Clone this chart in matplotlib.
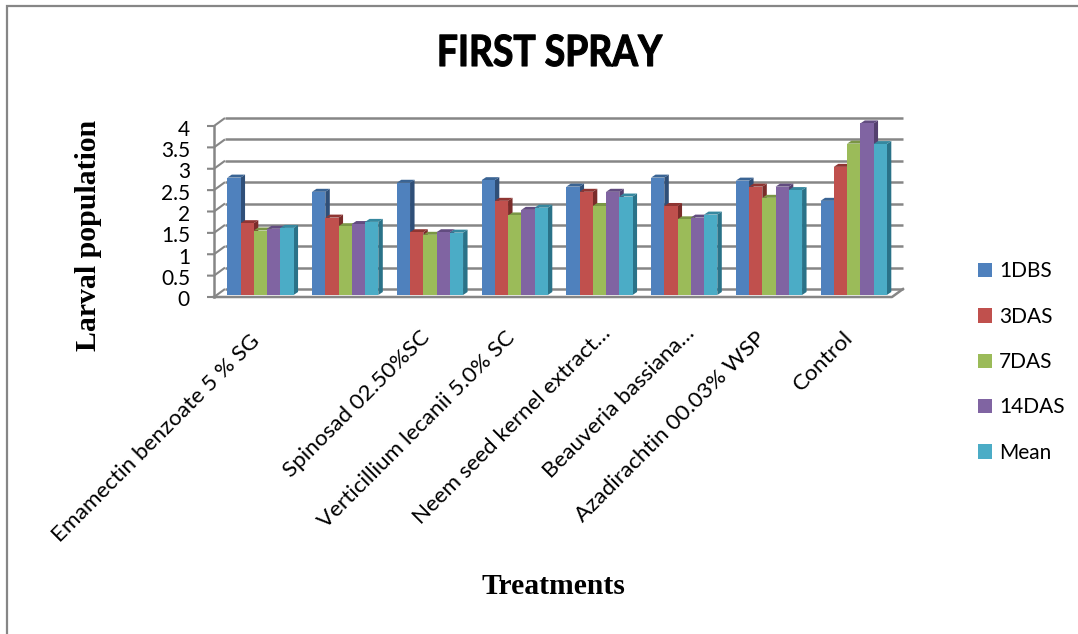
import numpy as np
import matplotlib
matplotlib.use('Agg')
import matplotlib.pyplot as plt
import matplotlib.patheffects as pe
from matplotlib.patches import Polygon
from matplotlib.transforms import Affine2D

# values
categories = ['Emamectin benzoate 5 % SG', '', 'Spinosad 02.50%SC', 'Verticillium lecanii 5.0% SC',
              'Neem seed kernel extract…', 'Beauveria bassiana…', 'Azadirachtin 00.03% WSP', 'Control']
dbs1 = [2.73, 2.40, 2.61, 2.67, 2.52, 2.73, 2.66, 2.19]
das3 = [1.67, 1.80, 1.46, 2.19, 2.40, 2.07, 2.52, 2.98]
das7 = [1.50, 1.60, 1.40, 1.85, 2.07, 1.76, 2.26, 3.52]
das14 = [1.54, 1.65, 1.46, 1.98, 2.40, 1.80, 2.52, 3.99]
mean = [1.56, 1.70, 1.45, 2.03, 2.29, 1.87, 2.44, 3.51]
series_names = ['1DBS', '3DAS', '7DAS', '14DAS', 'Mean']
yticks = [0, 0.5, 1, 1.5, 2, 2.5, 3, 3.5, 4]
ytick_labels = ['0', '0.5', '1', '1.5', '2', '2.5', '3', '3.5', '4']

series = [dbs1, das3, das7, das14, mean]
front = ['#4F81BD', '#C0504D', '#9BBB59', '#8064A2', '#4BACC6']
side = ['#2F4F78', '#7A2C2A', '#66803A', '#54406E', '#2A7288']
top = ['#3A6494', '#8F3532', '#7A9645', '#624C80', '#36889F']
grid = '#868686'

W, H = 1078, 634


# the title font in the picture is narrower than anything installed, so squeeze it
class Squeeze(pe.AbstractPathEffect):
    def __init__(self, cx, fx):
        super().__init__()
        self.cx = cx
        self.fx = fx

    def draw_path(self, renderer, gc, tpath, affine, rgbFace=None):
        squeeze = Affine2D().translate(-self.cx, 0).scale(self.fx, 1).translate(self.cx, 0)
        gc0 = renderer.new_gc()
        gc0.copy_properties(gc)
        gc0.set_linewidth(0.8)
        gc0.set_foreground('black')
        renderer.draw_path(gc0, tpath, affine + squeeze, rgbFace)
        gc0.restore()


fig = plt.figure(figsize=(W / 100, H / 100), dpi=100)
fig.patches.append(plt.Rectangle((7 / W, -0.01), 1.1, 1 - 6 / H + 0.01, transform=fig.transFigure,
                                 fill=False, ec=grid, lw=1.6))

ax = fig.add_axes([214 / W, 1 - 295 / H, 678 / W, 172 / H])
ax.set_xlim(0, 8)
ax.set_ylim(0, 4)
for s in ax.spines.values():
    s.set_visible(False)

# size of one pixel in data units, for the fake 3d depth
px = 8 / 678
py = 4 / 172


def front_y(v):
    return (295 - (297 - 42.75 * v)) * py


def back_y(v):
    return (295 - (289 - 42.75 * v)) * py


def label_y(v):
    return (295 - (298 - 42.5 * v)) * py


# walls and floor
for v in yticks:
    ax.plot([-7 * px, 0, 11 * px], [front_y(v), front_y(v), back_y(v)], color=grid, lw=1.5,
            clip_on=False, zorder=1, solid_capstyle='butt')
    ax.plot([11 * px, 8 + 11 * px], [back_y(v), back_y(v)], color=grid, lw=1.8, clip_on=False, zorder=1,
            solid_capstyle='butt')
ax.plot([0, 0], [front_y(0), front_y(4)], color=grid, lw=1.8, clip_on=False, zorder=1)
ax.plot([0, 8, 8 + 11 * px], [front_y(0), front_y(0), back_y(0)], color=grid, lw=1.8, clip_on=False, zorder=1)

# bars, back to front is left to right so the sides get covered by the next bar
bw = 13.25 * px
start = 13.3 * px
dx = 4.5 * px
dy = 3 * py
for g in range(8):
    for j, vals in enumerate(series):
        x0 = g + start + j * bw
        h = vals[g]
        z = 3 + j * 0.1
        ax.add_patch(Polygon([(x0 + bw, 0), (x0 + bw + dx, dy), (x0 + bw + dx, h + dy), (x0 + bw, h)],
                             fc=side[j], ec='none', zorder=z, clip_on=False))
        ax.add_patch(Polygon([(x0, h), (x0 + dx, h + dy), (x0 + bw + dx, h + dy), (x0 + bw, h)],
                             fc=top[j], ec='none', zorder=z, clip_on=False))
bars = []
for j, vals in enumerate(series):
    pos = [g + start + j * bw for g in range(8)]
    bars.append(ax.bar(pos, vals, width=bw, align='edge', color=front[j], zorder=4, clip_on=False,
                       label=series_names[j]))

# y labels sit a bit lower than the ticks, the lowest would fall outside a real tick range
ax.set_yticks([])
ax.set_xticks([])
for v, lab in zip(yticks, ytick_labels):
    ax.text(-24 * px, label_y(v), lab, ha='right', va='center_baseline', fontsize=15, family='Lato',
            color='black', clip_on=False)

# category labels, anchored at the middle of their right end
ends = [(257, 338), None, (427, 334), (512, 335), (607, 330), (691, 330), (762, 335), (850, 335)]
for lab, e in zip(categories, ends):
    if e is None:
        continue
    fig.text(e[0] / W, 1 - e[1] / H, lab, rotation=45, rotation_mode='anchor', ha='right', va='center',
             fontsize=16.2, family='Lato', color='black')

fig.text(549.5 / W, 1 - 53 / H, 'FIRST SPRAY', ha='center', va='center', fontsize=31, family='Lato',
         fontweight='bold', color='black', path_effects=[Squeeze(549.5, 0.865)])
fig.text(88 / W, 1 - 235 / H, 'Larval population', rotation=90, ha='center', va='center', fontsize=21.4,
         family='Liberation Serif', fontweight='bold', color='black')
fig.text(553 / W, 1 - 586 / H, 'Treatments', ha='center', va='center', fontsize=21.3,
         family='Liberation Serif', fontweight='bold', color='black')

fig.legend(handles=[b[0] for b in bars], labels=series_names, loc='upper left',
           bbox_to_anchor=(972 / W, 1 - 255 / H), frameon=False, prop={'family': 'Lato', 'size': 15},
           handlelength=0.68, handleheight=0.68, handletextpad=0.32, labelspacing=1.22, borderpad=0.3, borderaxespad=0)

fig.savefig('out.png', dpi=100)
